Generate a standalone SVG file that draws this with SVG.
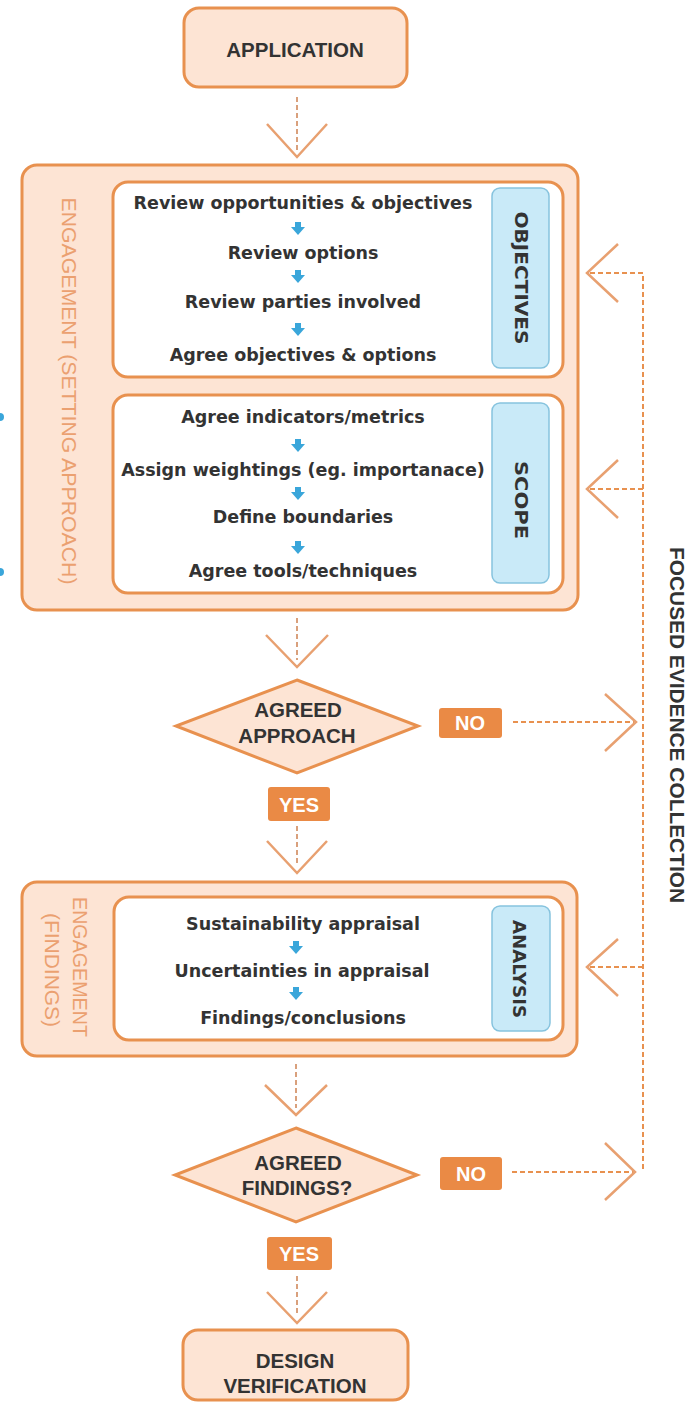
<svg xmlns="http://www.w3.org/2000/svg" width="697" height="1408" viewBox="0 0 697 1408">
<defs>
<style>
.box{fill:#fde4d4;stroke:#e8914f;stroke-width:3}
.inner{fill:#ffffff;stroke:#e8914f;stroke-width:3}
.tab{fill:#c9eaf8;stroke:#86c3de;stroke-width:1.5}
.h{font-family:"Liberation Sans",Arial,sans-serif;font-weight:bold;fill:#333333;text-anchor:middle;font-size:20.5px}
.item{font-family:"DejaVu Sans","Liberation Sans",sans-serif;font-weight:bold;fill:#333333;text-anchor:middle;font-size:17.5px}
.tabt{font-family:"DejaVu Sans","Liberation Sans",sans-serif;font-weight:bold;fill:#333333;text-anchor:middle;font-size:17px}
.lbl{font-family:"Liberation Sans",Arial,sans-serif;font-weight:bold;fill:#ffffff;text-anchor:middle;font-size:20px}
.side{font-family:"Liberation Sans",Arial,sans-serif;fill:#eba070;text-anchor:middle;font-size:20px}
.dash{fill:none;stroke:#e8914f;stroke-width:2;stroke-dasharray:5 3}
.vdash{fill:none;stroke:#d9a07c;stroke-width:2;stroke-dasharray:5 3}
.chev{fill:none;stroke:#e8a070;stroke-width:2.5}
.lblbox{fill:#ea8a45}
.blue{fill:#3aa6da}
</style>
<g id="barrow"><path class="blue" d="M-3,-7 h6 v5 h4 l-7,8 l-7,-8 h4 z"/></g>
</defs>

<circle cx="0" cy="417" r="4" class="blue"/>
<circle cx="0" cy="572" r="4" class="blue"/>

<g id="application">
<rect class="box" x="184" y="8" width="223" height="79" rx="15"/>
<text class="h" x="295" y="57">APPLICATION</text>
</g>

<g id="engagement-setting">
<rect class="box" x="22" y="165" width="556" height="445" rx="15"/>
<text class="side" transform="translate(62,391) rotate(90)" textLength="387" lengthAdjust="spacingAndGlyphs">ENGAGEMENT (SETTING APPROACH)</text>
</g>

<g id="objectives">
<rect class="inner" x="113" y="182" width="450" height="195" rx="15"/>
<rect class="tab" x="492" y="188" width="57" height="180" rx="8"/>
<text class="tabt" transform="translate(515,278) rotate(90)" textLength="133" lengthAdjust="spacingAndGlyphs">OBJECTIVES</text>
<text class="item" x="303" y="209">Review opportunities &amp; objectives</text>
<use href="#barrow" x="298" y="229"/>
<text class="item" x="303" y="259">Review options</text>
<use href="#barrow" x="298" y="277"/>
<text class="item" x="303" y="308">Review parties involved</text>
<use href="#barrow" x="298" y="330"/>
<text class="item" x="303" y="361">Agree objectives &amp; options</text>
</g>

<g id="scope">
<rect class="inner" x="113" y="395" width="450" height="198" rx="15"/>
<rect class="tab" x="492" y="403" width="57" height="180" rx="8"/>
<text class="tabt" transform="translate(515,500) rotate(90)" textLength="78" lengthAdjust="spacingAndGlyphs">SCOPE</text>
<text class="item" x="303" y="423">Agree indicators/metrics</text>
<use href="#barrow" x="298" y="446"/>
<text class="item" x="303" y="476">Assign weightings (eg. importanace)</text>
<use href="#barrow" x="298" y="494"/>
<text class="item" x="303" y="523">Define boundaries</text>
<use href="#barrow" x="298" y="548"/>
<text class="item" x="303" y="577">Agree tools/techniques</text>
</g>

<g id="agreed-approach">
<polygon class="box" points="297,680 418,726 297,773 176,726"/>
<text class="h" x="298" y="717">AGREED</text>
<text class="h" x="297" y="743">APPROACH</text>
</g>

<g id="no1">
<rect class="lblbox" x="439" y="708" width="63" height="30" rx="3"/>
<text class="lbl" x="470" y="730">NO</text>
</g>

<g id="yes1">
<rect class="lblbox" x="268" y="787" width="62" height="34" rx="3"/>
<text class="lbl" x="299" y="812">YES</text>
</g>

<g id="engagement-findings">
<rect class="box" x="22" y="882" width="555" height="174" rx="15"/>
<text class="side" transform="translate(73,967) rotate(90)" textLength="140" lengthAdjust="spacingAndGlyphs">ENGAGEMENT</text>
<text class="side" transform="translate(45,970) rotate(90)" textLength="114" lengthAdjust="spacingAndGlyphs">(FINDINGS)</text>
</g>

<g id="analysis">
<rect class="inner" x="114" y="897" width="449" height="143" rx="15"/>
<rect class="tab" x="492" y="906" width="58" height="125" rx="8"/>
<text class="tabt" transform="translate(513,969) rotate(90)" textLength="98" lengthAdjust="spacingAndGlyphs">ANALYSIS</text>
<text class="item" x="303" y="930">Sustainability appraisal</text>
<use href="#barrow" x="296" y="948"/>
<text class="item" x="302" y="977">Uncertainties in appraisal</text>
<use href="#barrow" x="296" y="994"/>
<text class="item" x="303" y="1024">Findings/conclusions</text>
</g>

<g id="agreed-findings">
<polygon class="box" points="296,1128 417,1175 296,1222 175,1175"/>
<text class="h" x="298" y="1170">AGREED</text>
<text class="h" x="297" y="1195">FINDINGS?</text>
</g>

<g id="no2">
<rect class="lblbox" x="440" y="1157" width="62" height="33" rx="3"/>
<text class="lbl" x="471" y="1181">NO</text>
</g>

<g id="yes2">
<rect class="lblbox" x="267" y="1237" width="65" height="33" rx="3"/>
<text class="lbl" x="299" y="1261">YES</text>
</g>

<g id="design-verification">
<rect class="box" x="183" y="1330" width="225" height="70" rx="15"/>
<text class="h" x="295" y="1368">DESIGN</text>
<text class="h" x="295" y="1393">VERIFICATION</text>
</g>

<g id="focused-label">
<text class="h" transform="translate(670,725) rotate(90)" textLength="356" lengthAdjust="spacingAndGlyphs">FOCUSED EVIDENCE COLLECTION</text>
</g>

<g id="connectors">
<line class="vdash" x1="297" y1="97" x2="297" y2="150"/>
<polyline class="chev" points="267,124 297,157 327,124"/>
<line class="vdash" x1="297" y1="618" x2="297" y2="660"/>
<polyline class="chev" points="266,635 297,667 328,635"/>
<line class="vdash" x1="297" y1="826" x2="297" y2="866"/>
<polyline class="chev" points="267,841 297,873 327,841"/>
<line class="vdash" x1="296" y1="1064" x2="296" y2="1108"/>
<polyline class="chev" points="265,1085 296,1115 327,1085"/>
<line class="vdash" x1="297" y1="1276" x2="297" y2="1316"/>
<polyline class="chev" points="267,1292 297,1323 327,1292"/>

<line class="dash" x1="513" y1="722" x2="634" y2="722"/>
<polyline class="chev" points="605,694 636,722 605,751"/>
<line class="dash" x1="512" y1="1172" x2="633" y2="1172"/>
<polyline class="chev" points="605,1143 635,1172 605,1200"/>

<polyline class="dash" points="590,273 643,273 643,1172"/>
<line class="dash" x1="590" y1="489" x2="643" y2="489"/>
<line class="dash" x1="590" y1="967" x2="643" y2="967"/>
<polyline class="chev" points="618,244 587,273 618,302"/>
<polyline class="chev" points="618,460 587,489 618,518"/>
<polyline class="chev" points="618,939 587,967 618,996"/>
</g>
</svg>
